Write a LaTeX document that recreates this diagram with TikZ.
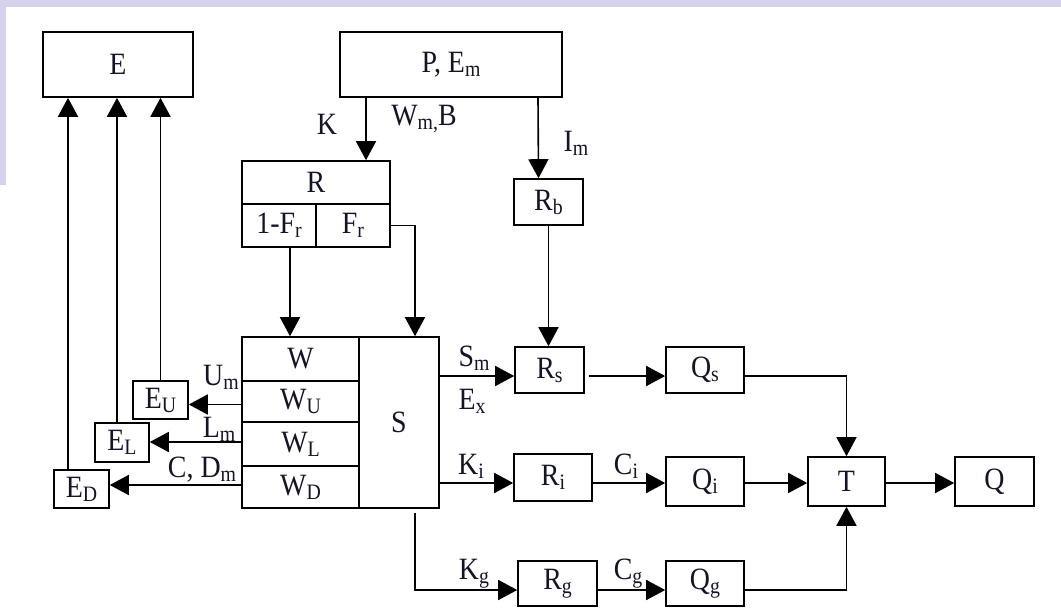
\documentclass[tikz,border=0pt]{standalone}
\usepackage{fontspec}
\setmainfont{Liberation Serif}[FakeStretch=0.9]
\usetikzlibrary{arrows.meta,calc}
\definecolor{lav}{RGB}{214,210,238}
\definecolor{ink}{RGB}{20,20,40}
\newcommand{\lsub}[1]{\raisebox{-4pt}{\fontsize{22}{22}\selectfont #1}}
\begin{document}
\begin{tikzpicture}[x=1pt,y=-1pt,
  box/.style={draw, line width=1.6pt, inner sep=0pt, text=ink, font=\fontsize{31}{32}\selectfont},
  lbl/.style={inner sep=0pt, text=ink, font=\fontsize{31}{32}\selectfont},
  arr/.style={line width=1.6pt, -{Triangle[width=20pt,length=19pt]}},
  ln/.style={line width=1.6pt}]
\useasboundingbox (0,0) rectangle (1061,608);
\fill[white] (0,0) rectangle (1061,608);
\fill[lav] (0,0) rectangle (1061,7);
\fill[lav] (0,0) rectangle (6,185);
% boxes
\node[box, minimum width=150pt, minimum height=65pt] (E) at (118,64.5) {E};
\node[box, minimum width=222pt, minimum height=65pt] (PE) at (451,64.5) {P, E\lsub{m}};
\node[box, minimum width=148pt, minimum height=43pt] (Rtop) at (316,182.5) {R};
\node[box, minimum width=74pt, minimum height=43pt] (RL) at (279,225.5) {1-F\lsub{r}};
\node[box, minimum width=74pt, minimum height=43pt] (RR) at (353,225.5) {F\lsub{r}};
\node[box, minimum width=69pt, minimum height=46pt] (Rb) at (548.5,202) {R\lsub{b}};
\node[box, minimum width=117pt, minimum height=44pt] (W) at (300.5,359) {W};
\node[box, minimum width=117pt, minimum height=41pt] (WU) at (300.5,401.5) {W\lsub{U}};
\node[box, minimum width=117pt, minimum height=44pt] (WL) at (300.5,444) {W\lsub{L}};
\node[box, minimum width=117pt, minimum height=42pt] (WD) at (300.5,487) {W\lsub{D}};
\node[box, minimum width=80pt, minimum height=171pt] (S) at (399,422.5) {S};
\node[box, minimum width=55pt, minimum height=38pt] (EU) at (160.5,400) {E\lsub{U}};
\node[box, minimum width=54pt, minimum height=39pt] (EL) at (122,442.5) {E\lsub{L}};
\node[box, minimum width=55pt, minimum height=38pt] (ED) at (81.5,489) {E\lsub{D}};
\node[box, minimum width=69pt, minimum height=46pt] (Rs) at (549.5,370) {R\lsub{s}};
\node[box, minimum width=78pt, minimum height=46pt] (Qs) at (705,370) {Q\lsub{s}};
\node[box, minimum width=78pt, minimum height=47pt] (Ri) at (553,477.5) {R\lsub{i}};
\node[box, minimum width=78pt, minimum height=49pt] (Qi) at (705,481.5) {Q\lsub{i}};
\node[box, minimum width=77pt, minimum height=49pt] (T) at (846.5,481.5) {T};
\node[box, minimum width=79pt, minimum height=49pt] (Q) at (994.5,481.5) {Q};
\node[box, minimum width=79pt, minimum height=45pt] (Rg) at (557.5,583.5) {R\lsub{g}};
\node[box, minimum width=78pt, minimum height=45pt] (Qg) at (705,583.5) {Q\lsub{g}};
% row coordinates
\coordinate (rowS) at (0,376);
\coordinate (rowI) at (0,483);
\coordinate (rowG) at (0,590);
% connectors
\draw[arr] ([xshift=-85pt]PE.south) -- ([xshift=50pt]Rtop.north);
\draw[arr] ([xshift=87pt]PE.south) -- ([xshift=-10pt]Rb.north);
\draw[arr] (Rb.south) -- (Rb.south |- Rs.north);
\draw[arr] ([xshift=11pt]RL.south) -- ([xshift=11pt]RL.south |- W.north);
\draw[arr] (RR.east) -| ([xshift=16pt]S.north);
\draw[arr] ([xshift=-13.5pt]ED.north) -- ([xshift=-13.5pt]ED.north |- E.south);
\draw[arr] ([xshift=-5pt]EL.north) -- ([xshift=-5pt]EL.north |- E.south);
\draw[arr] (EU.north) -- (EU.north |- E.south);
\draw[arr] ([yshift=-3pt]WU.west) -- ([yshift=-3pt]WU.west -| EU.east);
\draw[arr] ([yshift=2pt]WL.west) -- ([yshift=2pt]WL.west -| EL.east);
\draw[arr] ([yshift=2pt]WD.west) -- ([yshift=2pt]WD.west -| ED.east);
\draw[arr] (S.east |- rowS) -- (Rs.west |- rowS);
\draw[arr] ([xshift=4pt]Rs.east |- rowS) -- (Qs.west |- rowS);
\draw[arr] (Qs.east |- rowS) -| (T.north);
\draw[arr] (S.east |- rowI) -- (Ri.west |- rowI);
\draw[arr] (Ri.east |- rowI) -- (Qi.west |- rowI);
\draw[arr] (Qi.east |- rowI) -- (T.west |- rowI);
\draw[arr] (T.east |- rowI) -- (Q.west |- rowI);
\draw[arr] ([xshift=16pt,yshift=-4pt]S.south) |- (Rg.west |- rowG);
\draw[arr] (Rg.east |- rowG) -- (Qg.west |- rowG);
\draw[arr] (Qg.east |- rowG) -| (T.south);
% labels
\node[lbl] (lK) at (327,124) {K};
\node[lbl] (lW) at (424,119) {W\lsub{m,}B};
\node[lbl] (lI) at (576,143) {I\lsub{m}};
\node[lbl] (lU) at (221,377) {U\lsub{m}};
\node[lbl] (lL) at (219,429) {L\lsub{m}};
\node[lbl] (lC) at (202,470) {C, D\lsub{m}};
\node[lbl] (lS) at (474,358) {S\lsub{m}};
\node[lbl] (lE) at (472,401) {E\lsub{x}};
\node[lbl] (lKi) at (471,466) {K\lsub{i}};
\node[lbl] (lCi) at (626,466) {C\lsub{i}};
\node[lbl] (lKg) at (474,574) {K\lsub{g}};
\node[lbl] (lCg) at (628,574) {C\lsub{g}};
\end{tikzpicture}
\end{document}
